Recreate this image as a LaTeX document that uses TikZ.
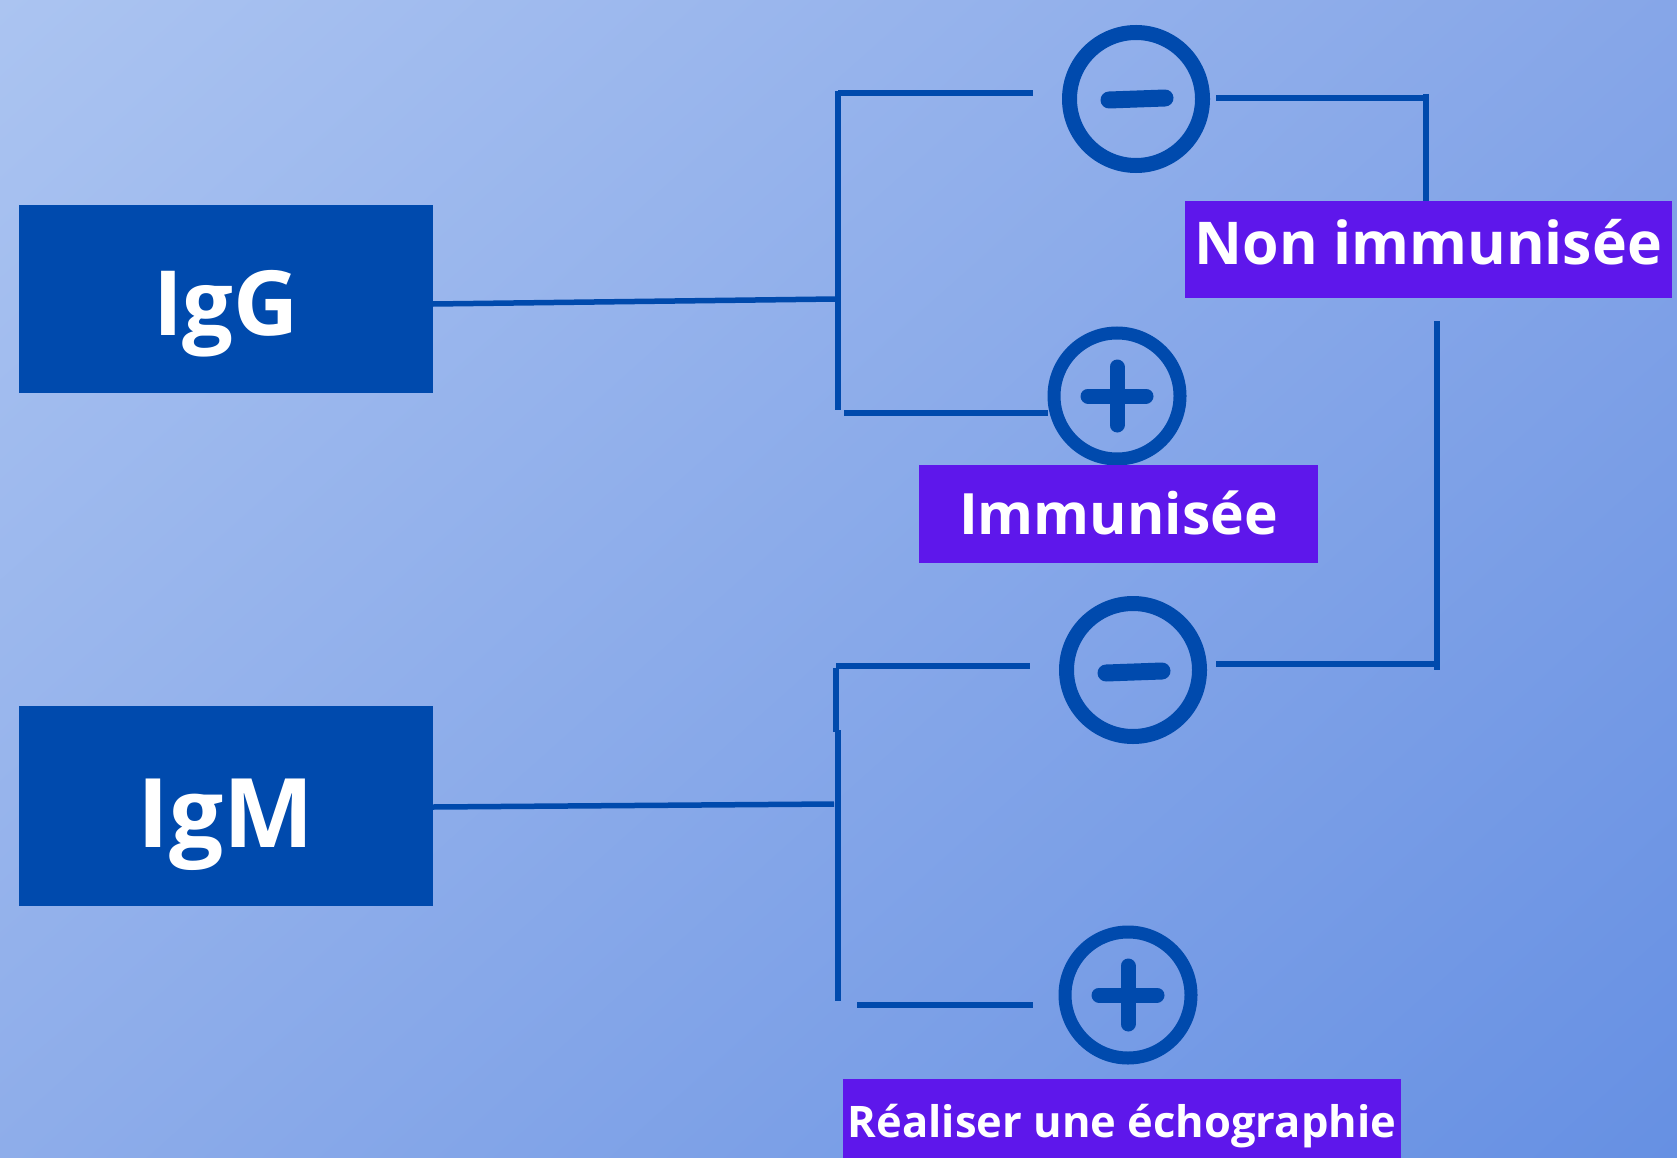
\documentclass[tikz,border=0pt]{standalone}
\usepackage{fontspec}
\setmainfont{Open Sans}
\usetikzlibrary{shadings,calc}
\definecolor{dblue}{HTML}{004AAD}
\definecolor{purp}{HTML}{5E17EB}
\definecolor{bgA}{HTML}{ABC4F1}
\definecolor{bgB}{HTML}{86A6E8}
\definecolor{bgC}{HTML}{8EADEA}
\definecolor{bgD}{HTML}{6690E3}
\begin{document}
\begin{tikzpicture}[x=1pt,y=-1pt,
  conn/.style={draw=dblue,line width=5.5pt},
  ibox/.style={fill=dblue,text=white,minimum width=414pt,inner sep=0pt,text depth=0pt},
  obox/.style={fill=purp,text=white,inner sep=0pt,text depth=0pt},
  minussign/.style={circle,draw=dblue,line width=15pt,minimum size=133pt,inner sep=0pt},
  plussign/.style={circle,draw=dblue,line width=13pt,minimum size=126pt,inner sep=0pt},
  bar/.style={draw=dblue,line width=16pt,line cap=round}]
\useasboundingbox (0,0) rectangle (1677,1158);
\shade[upper left=bgA,upper right=bgB,lower left=bgC,lower right=bgD] (0,0) rectangle (1677,1158);

% main boxes
\node[ibox,minimum height=188pt,text height=72pt,font=\bfseries\fontsize{90}{100}\selectfont] (igg) at (226,299) {IgG};
\node[ibox,minimum height=200pt,text height=82pt,font=\bfseries\fontsize{96}{106}\selectfont] (igm) at (226,806) {IgM};

% sign circles
\node[minussign] (m1) at (1136,99) {};
\node[plussign] (p1) at (1117,396) {};
\node[minussign] (m2) at (1133,670) {};
\node[plussign] (p2) at (1128,995) {};

\draw[bar,line width=17pt] ($(m1)+(-27,1)$) -- ($(m1)+(29,-1)$);
\draw[bar,line width=17pt] ($(m2)+(-27,3)$) -- ($(m2)+(29,1)$);
\draw[bar,line width=15pt] ($(p1)+(-29,0)$) -- ($(p1)+(29,0)$);
\draw[bar,line width=15pt] ($(p1)+(0,-29)$) -- ($(p1)+(0,29)$);
\draw[bar,line width=15pt] ($(p2)+(-29,0)$) -- ($(p2)+(29,0)$);
\draw[bar,line width=15pt] ($(p2)+(0,-29)$) -- ($(p2)+(0,29)$);

% result boxes
\node[obox,minimum width=487pt,minimum height=97pt,text height=31pt,font=\bfseries\fontsize{59}{66}\selectfont] (non) at (1428.5,249.5) {Non immunisée};
\node[obox,minimum width=399pt,minimum height=98pt,text height=40pt,font=\bfseries\fontsize{57}{64}\selectfont] (imm) at (1118.5,514) {Immunisée};
\node[obox,minimum width=558pt,minimum height=82pt,text height=34pt,font=\bfseries\fontsize{43.5}{50}\selectfont] (rea) at (1122,1120) {Réaliser une échographie};

% connector points
\coordinate (ga) at (433,304);
\coordinate (gb) at (836,299);
\coordinate (gt) at (838,91);
\coordinate (gbot) at (838,410);
\coordinate (gte) at (1033,93);
\coordinate (gbs) at (844,413);
\coordinate (gbe) at (1048,413);
\coordinate (m1s) at (1216,98);
\coordinate (m1e) at (1426,98);
\coordinate (nt) at (1426,201);
\coordinate (rt) at (1437,321);
\coordinate (rb) at (1437,670);
\coordinate (m2s) at (1216,664);
\coordinate (ma) at (433,807);
\coordinate (mb) at (834,804);
\coordinate (mt) at (836,668);
\coordinate (mmid) at (836,732);
\coordinate (mmid2) at (838,730);
\coordinate (mbot) at (838,1001);
\coordinate (mte) at (1030,666);
\coordinate (mbs) at (857,1005);
\coordinate (mbe) at (1033,1005);

\draw[conn] (ga) -- (gb);
\draw[conn] (gt) -- (gbot);
\draw[conn] (838,93) -- (gte);
\draw[conn] (gbs) -- (gbe);
\draw[conn] (m1s) -- (m1e);
\draw[conn] (1426,94) -- (nt);
\draw[conn] (rt) -- (rb);
\draw[conn] (m2s) -- (1437,664);
\draw[conn] (ma) -- (mb);
\draw[conn] (mt) -- (mmid);
\draw[conn] (mmid2) -- (mbot);
\draw[conn] (836,666) -- (mte);
\draw[conn] (mbs) -- (mbe);
\end{tikzpicture}
\end{document}
